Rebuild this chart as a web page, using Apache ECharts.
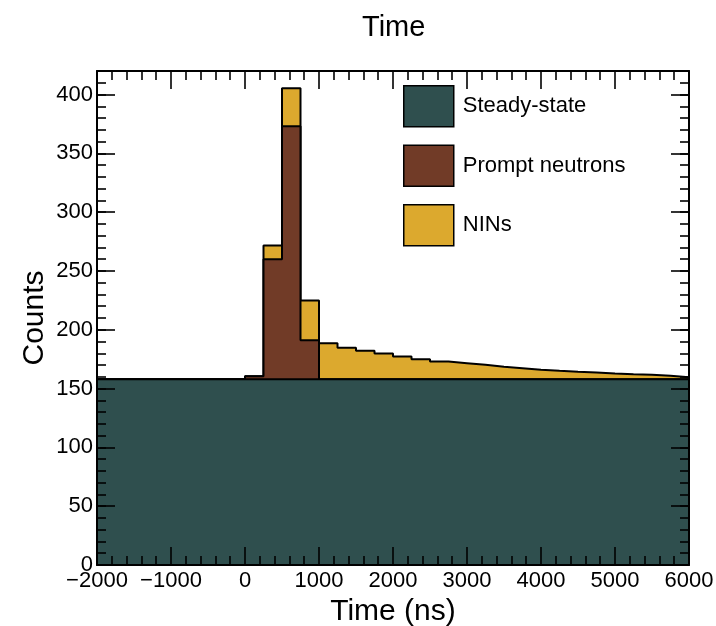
<!DOCTYPE html>
<html>
<head>
<meta charset="utf-8">
<script src="https://cdn.jsdelivr.net/npm/echarts@6/dist/echarts.min.js"></script>
<style>html,body{margin:0;padding:0;background:#fff;}#c{width:716px;height:626px;}</style>
</head>
<body>
<div id="c"></div>
<script>
// Bin edges (ns), 250 ns bins from -2000 to 6000
const binEdges = [-2000,-1750,-1500,-1250,-1000,-750,-500,-250,0,250,500,750,1000,1250,1500,1750,2000,2250,2500,2750,3000,3250,3500,3750,4000,4250,4500,4750,5000,5250,5500,5750,6000];
const steadyState = [158,158,158,158,158,158,158,158,158,158,158,158,158,158,158,158,158,158,158,158,158,158,158,158,158,158,158,158,158,158,158,158];
const promptNeutrons = [0,0,0,0,0,0,0,0,2.5,102,215,33,0,0,0,0,0,0,0,0,0,0,0,0,0,0,0,0,0,0,0,0];
const nins = [0,0,0,0,0,0,0,0,0,11.6,32.3,33.8,30.6,26.7,24.1,21.8,19.3,17.0,15.0,13.6,12.2,10.5,9.3,8.0,7.1,6.3,5.7,4.8,4.2,3.7,2.9,1.7];
const seriesNames = ['Steady-state','Prompt neutrons','NINs'];
const seriesColors = ['#2f4f4e','#713b27','#dca92e'];

const FONT = 'Liberation Sans, Arial, Helvetica, sans-serif';

// stacked (cumulative) histograms, drawn like a ROOT THStack
const layers = [steadyState, promptNeutrons, nins];
const cumulative = layers.map((_, k) => steadyState.map((_, i) => {
  let s = 0; for (let j = 0; j <= k; j++) s += layers[j][i]; return s;
}));
function stepData(vals){
  const d = vals.map((v,i)=>[binEdges[i], v]);
  d.push([binEdges[binEdges.length-1], vals[vals.length-1]]);
  return d;
}
const fmtX = v => (v < 0 ? '\u2212' + Math.abs(v) : String(v));

const chart = echarts.init(document.getElementById('c'), null, {renderer:'canvas'});
const tickLine = {color:'#000', width:1.6};
const option = {
  animation:false,
  backgroundColor:'#fff',
  title:{text:'Time', left:357, top:8, z:20, textStyle:{fontFamily:FONT, fontSize:29, fontWeight:'normal', color:'#000'}},
  legend:{
    z:20, padding:0,
    orient:'vertical', left:403, top:85, itemWidth:50, itemHeight:41, itemGap:17,
    icon:'rect', selectedMode:false,
    textStyle:{fontFamily:FONT, fontSize:22, color:'#000', padding:[0,0,0,4]},
    data: seriesNames.map((n,i)=>({name:n, itemStyle:{color:seriesColors[i], borderColor:'#000', borderWidth:1.5}}))
  },
  grid:{left:97, top:71, width:592, height:494, outerBoundsMode:'none', containLabel:false},
  xAxis:[
    {type:'value', position:'bottom', min:-2000, max:6000, interval:1000, z:10,
     axisLine:{onZero:false, lineStyle:{color:'#000', width:2}},
     axisTick:{inside:true, length:18, lineStyle:tickLine},
     minorTick:{show:true, splitNumber:5, length:9, lineStyle:tickLine},
     axisLabel:{formatter:fmtX, margin:5, fontFamily:FONT, fontSize:22, color:'#000'},
     splitLine:{show:false},
     name:'Time (ns)', nameLocation:'middle', nameGap:26,
     nameTextStyle:{fontFamily:FONT, fontSize:30, color:'#000'}},
    {type:'value', position:'top', min:-2000, max:6000, interval:1000, z:10,
     axisLine:{onZero:false, lineStyle:{color:'#000', width:2}},
     axisTick:{inside:true, length:18, lineStyle:tickLine},
     minorTick:{show:true, splitNumber:5, length:9, lineStyle:tickLine},
     axisLabel:{show:false}, splitLine:{show:false}}
  ],
  yAxis:[
    {type:'value', position:'left', min:0, max:420, interval:50, z:10,
     axisLine:{show:true, onZero:false, lineStyle:{color:'#000', width:2}},
     axisTick:{show:true, inside:true, length:18, lineStyle:tickLine},
     axisLabel:{formatter:v => (v % 50 === 0 ? String(v) : ''), margin:4, fontFamily:FONT, fontSize:22, color:'#000'},
     splitLine:{show:false},
     name:'Counts', nameLocation:'middle', nameGap:47, nameMoveOverlap:false,
     nameTextStyle:{fontFamily:FONT, fontSize:30, color:'#000'}},
    {type:'value', position:'right', min:0, max:420, interval:50, z:10,
     axisLine:{show:true, onZero:false, lineStyle:{color:'#000', width:2}},
     axisTick:{show:true, inside:true, length:18, lineStyle:tickLine},
     axisLabel:{show:false}, splitLine:{show:false}},
    {type:'value', position:'left', min:0, max:420, interval:10, z:10,
     axisLine:{show:false, onZero:false},
     axisTick:{show:true, inside:true, length:9, lineStyle:tickLine},
     axisLabel:{show:false}, splitLine:{show:false}},
    {type:'value', position:'right', min:0, max:420, interval:10, z:10,
     axisLine:{show:false, onZero:false},
     axisTick:{show:true, inside:true, length:9, lineStyle:tickLine},
     axisLabel:{show:false}, splitLine:{show:false}}
  ],
  series:cumulative.map((vals,i)=>({
    name:seriesNames[i], type:'line', step:'end',
    xAxisIndex:0, yAxisIndex:0,
    data:stepData(vals), symbol:'none', smooth:false,
    z:3-i,
    itemStyle:{color:seriesColors[i]},
    lineStyle:{color:'#000', width:2},
    areaStyle:{color:seriesColors[i], opacity:1, origin:'start'},
    emphasis:{disabled:true}
  }))
};
chart.setOption(option);
</script>
</body>
</html>
